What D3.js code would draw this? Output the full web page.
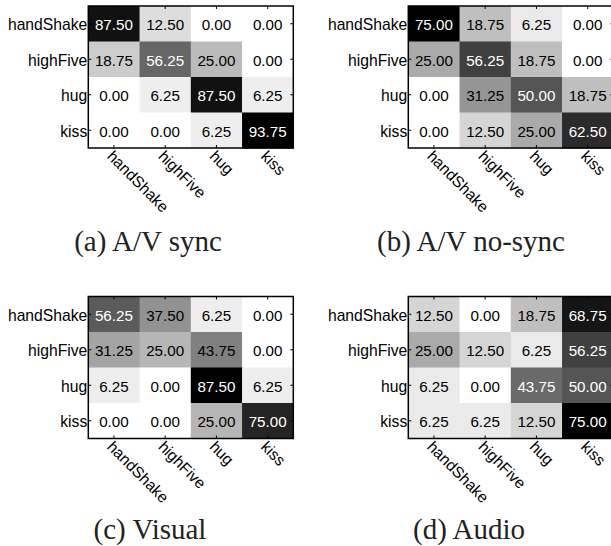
<!DOCTYPE html>
<html>
<head>
<meta charset="utf-8">
<script src="https://cdn.jsdelivr.net/npm/d3@7"></script>
<style>
  body { margin: 0; background: #fff; }
  svg { display: block; }
</style>
</head>
<body>
<div id="chartArea"></div>
<script>
// class labels (rows = true, columns = predicted)
var classes = ['handShake', 'highFive', 'hug', 'kiss'];

var avSync = [
  [87.50, 12.50, 0.00, 0.00],
  [18.75, 56.25, 25.00, 0.00],
  [0.00, 6.25, 87.50, 6.25],
  [0.00, 0.00, 6.25, 93.75]
];
var avNoSync = [
  [75.00, 18.75, 6.25, 0.00],
  [25.00, 56.25, 18.75, 0.00],
  [0.00, 31.25, 50.00, 18.75],
  [0.00, 12.50, 25.00, 62.50]
];
var visual = [
  [56.25, 37.50, 6.25, 0.00],
  [31.25, 25.00, 43.75, 0.00],
  [6.25, 0.00, 87.50, 6.25],
  [0.00, 0.00, 25.00, 75.00]
];
var audio = [
  [12.50, 0.00, 18.75, 68.75],
  [25.00, 12.50, 6.25, 56.25],
  [6.25, 0.00, 43.75, 50.00],
  [6.25, 6.25, 12.50, 75.00]
];
var captions = ['(a) A/V sync', '(b) A/V no-sync', '(c) Visual', '(d) Audio'];

var width = 611, height = 546;
var boxW = 205, boxH = 142;

var panels = [
  {m: avSync,   x: 88.3,  y: 6,     cx: 148, cy: 251},
  {m: avNoSync, x: 408.3, y: 6,     cx: 471, cy: 251},
  {m: visual,   x: 88.3,  y: 296.5, cx: 150, cy: 539},
  {m: audio,    x: 408.3, y: 296.5, cx: 469, cy: 539}
];

var svg = d3.select('#chartArea').append('svg')
    .attr('width', width)
    .attr('height', height);

var xscale = d3.scaleBand().domain(classes).range([0, boxW]);
var yscale = d3.scaleBand().domain(classes).range([0, boxH]);

panels.forEach(function(p, i) {
    var cells = [];
    p.m.forEach(function(row, r) {
        row.forEach(function(v, c) {
            cells.push({row: classes[r], col: classes[c], v: v});
        });
    });
    var maxV = d3.max(cells, function(d) { return d.v; });
    var color = d3.scaleLinear().domain([0, maxV]).range(['#ffffff', '#000000']);

    var g = svg.append('g')
        .attr('transform', 'translate(' + p.x + ',' + p.y + ')');

    g.selectAll('rect.cell').data(cells).enter().append('rect')
        .attr('class', 'cell')
        .attr('x', function(d) { return xscale(d.col); })
        .attr('y', function(d) { return yscale(d.row); })
        .attr('width', xscale.bandwidth() + 0.5)
        .attr('height', yscale.bandwidth() + 0.5)
        .attr('fill', function(d) { return color(d.v); });

    g.selectAll('text.val').data(cells).enter().append('text')
        .attr('class', 'val')
        .attr('x', function(d) { return xscale(d.col) + xscale.bandwidth() / 2; })
        .attr('y', function(d) { return yscale(d.row) + yscale.bandwidth() / 2 + 6.5; })
        .attr('text-anchor', 'middle')
        .style('font-family', '"Liberation Sans", Arial, sans-serif')
        .style('font-size', '15.2px')
        .attr('fill', function(d) { return d.v / maxV > 0.5 ? '#fff' : '#000'; })
        .text(function(d) { return d.v.toFixed(2); });

    // inward ticks on all four sides
    var left = g.append('g')
        .call(d3.axisLeft(yscale).tickSize(-3).tickSizeOuter(0).tickPadding(1));
    left.selectAll('text')
        .attr('dy', null)
        .attr('y', 6.5)
        .style('font-family', '"Liberation Sans", Arial, sans-serif')
        .style('font-size', '15.7px')
        .attr('fill', '#000');

    var bottom = g.append('g')
        .attr('transform', 'translate(0,' + boxH + ')')
        .call(d3.axisBottom(xscale).tickSize(-3).tickSizeOuter(0));
    bottom.selectAll('text')
        .attr('dy', null)
        .attr('x', 1)
        .attr('y', 12)
        .attr('text-anchor', 'start')
        .attr('transform', 'rotate(45)')
        .style('font-family', '"Liberation Sans", Arial, sans-serif')
        .style('font-size', '15.7px')
        .attr('fill', '#000');

    g.append('g')
        .call(d3.axisTop(xscale).tickSize(-3).tickSizeOuter(0).tickFormat(''));
    g.append('g')
        .attr('transform', 'translate(' + boxW + ',0)')
        .call(d3.axisRight(yscale).tickSize(-3).tickSizeOuter(0).tickFormat(''));

    g.selectAll('.domain').remove();
    g.selectAll('.tick line').attr('stroke', '#000').attr('stroke-width', 1);

    g.append('rect')
        .attr('width', boxW)
        .attr('height', boxH)
        .attr('fill', 'none')
        .attr('stroke', '#000')
        .attr('stroke-width', 1.5);

    svg.append('text')
        .attr('x', p.cx)
        .attr('y', p.cy)
        .attr('text-anchor', 'middle')
        .style('font-family', '"Liberation Serif", "Times New Roman", serif')
        .style('font-size', '29px')
        .attr('fill', '#222')
        .text(captions[i]);
});
</script>
</body>
</html>
